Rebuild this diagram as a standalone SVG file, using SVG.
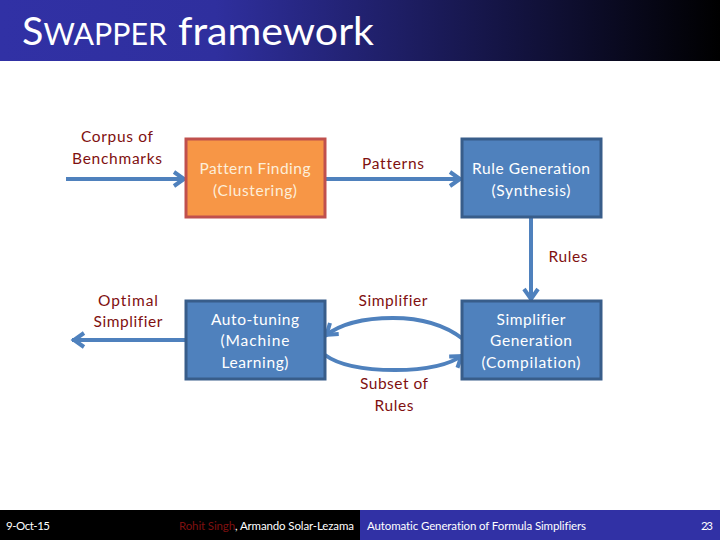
<svg xmlns="http://www.w3.org/2000/svg" width="720" height="540" viewBox="0 0 720 540">
<style>
text{font-family:Lato,"Open Sans","Liberation Sans",sans-serif;font-variant-ligatures:none}
.n{font-size:15.5px;fill:#fff;text-anchor:middle}
.p{fill:#fdeed9}
.l{font-size:15.5px;fill:#7f1010;text-anchor:middle}
.f{font-size:11.5px;fill:#fff}
.a{fill:none;stroke:#4f81bd;stroke-width:4;marker-end:url(#h)}
.b{fill:#4f81bd;stroke:#385d8a;stroke-width:3}
</style>
<defs>
<linearGradient id="g" x1="0" x2="1" y1="0" y2="0"><stop offset="0" stop-color="#3131a5"/><stop offset=".3" stop-color="#2f2f9e"/><stop offset="1" stop-color="#000"/></linearGradient>
<marker id="h" markerUnits="userSpaceOnUse" markerWidth="20" markerHeight="20" refX="15" refY="10" orient="auto"><path d="M3 3 L13 10 L3 17" fill="none" stroke="#4f81bd" stroke-width="4"/></marker>
</defs>
<rect width="720" height="540" fill="#fff"/>
<rect id="title-bar" width="720" height="61" fill="url(#g)"/>
<text x="22" y="45" font-size="39" fill="#fff" textLength="145" lengthAdjust="spacingAndGlyphs">S<tspan font-size="30">WAPPER</tspan></text>
<text x="178" y="45" font-size="39" fill="#fff" textLength="196" lengthAdjust="spacingAndGlyphs">framework</text>
<g id="connectors">
<path class="a" d="M66 179 H186"/>
<path class="a" d="M325 179 H462"/>
<path class="a" d="M531 218 V301"/>
<path class="a" d="M186 340 H72"/>
<path class="a" d="M463 339 C445 325 420 318 393 318 C365 318 340 324 325 336"/>
<path class="a" d="M325 355 C340 366 365 370 395 370 C425 370 448 366 463 355"/>
</g>
<g id="pattern-finding"><rect x="186" y="139" width="139" height="78" fill="#f79646" stroke="#c0504d" stroke-width="3"/>
<text class="n p" x="255" y="174" textLength="111">Pattern Finding</text><text class="n p" x="255" y="196" textLength="84">(Clustering)</text></g>
<g id="rule-generation"><rect class="b" x="462" y="139" width="139" height="78"/>
<text class="n" x="531" y="174" textLength="118">Rule Generation</text><text class="n" x="531" y="196" textLength="79">(Synthesis)</text></g>
<g id="auto-tuning"><rect class="b" x="186" y="301" width="139" height="78"/>
<text class="n" x="255" y="325" textLength="88">Auto-tuning</text><text class="n" x="255" y="346" textLength="69">(Machine</text><text class="n" x="255" y="368" textLength="67">Learning)</text></g>
<g id="simplifier-generation"><rect class="b" x="462" y="301" width="139" height="78"/>
<text class="n" x="531" y="325" textLength="69">Simplifier</text><text class="n" x="531" y="346" textLength="82">Generation</text><text class="n" x="531" y="368" textLength="99">(Compilation)</text></g>
<g id="labels">
<text class="l" x="117" y="142" textLength="72">Corpus of</text><text class="l" x="117" y="164" textLength="90">Benchmarks</text>
<text class="l" x="393" y="169" textLength="62">Patterns</text>
<text class="l" x="568" y="262" textLength="39">Rules</text>
<text class="l" x="128" y="306" textLength="60">Optimal</text><text class="l" x="128" y="327" textLength="69">Simplifier</text>
<text class="l" x="393" y="306" textLength="69">Simplifier</text>
<text class="l" x="394" y="389" textLength="68">Subset of</text><text class="l" x="394" y="411" textLength="39">Rules</text>
</g>
<g id="footer">
<rect y="510" width="360" height="30" fill="#000"/><rect x="360" y="510" width="360" height="30" fill="#3131a5"/>
<text class="f" x="6" y="530" textLength="44">9-Oct-15</text>
<text class="f" x="179" y="530" textLength="175"><tspan fill="#7f1010">Rohit Singh</tspan>, Armando Solar-Lezama</text>
<text class="f" x="367" y="530" textLength="219">Automatic Generation of Formula Simplifiers</text>
<text class="f" x="701" y="530" textLength="12">23</text>
</g>
</svg>
